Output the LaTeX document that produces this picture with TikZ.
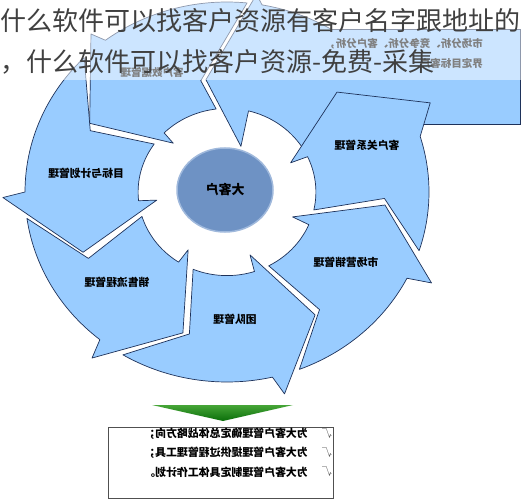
\documentclass[tikz,border=0pt]{standalone}
\usepackage{fontspec}
\usepackage{graphicx}
\usetikzlibrary{shapes.geometric}
\newfontfamily\cjk{Noto Sans CJK SC}
\definecolor{segblue}{RGB}{153,204,255}
\definecolor{navy}{RGB}{30,50,90}
\definecolor{hubfill}{RGB}{110,146,196}
\definecolor{hubrim}{RGB}{160,185,220}
\definecolor{titlegray}{RGB}{64,64,64}
\definecolor{gtop}{RGB}{70,165,55}
\definecolor{gbot}{RGB}{10,110,10}
\definecolor{boxline}{RGB}{80,80,80}
\tikzset{
  seg/.style={fill=segblue, draw=navy, line width=0.7pt, line join=round},
  segline/.style={draw=navy, line width=0.7pt, line join=round},
  lbl/.style={font=\cjk\bfseries\fontsize{10.8}{13}\selectfont, inner sep=0pt, text=black},
  small/.style={font=\cjk\bfseries\fontsize{10.5}{13}\selectfont, inner sep=0pt, text=black},
  boxtxt/.style={font=\cjk\bfseries\fontsize{10.9}{13}\selectfont, inner sep=0pt, text=black},
  chk/.style={font=\cjk\fontsize{10}{12}\selectfont, inner sep=0pt, text=black!70},
  titletxt/.style={font=\cjk\fontsize{26}{30}\selectfont, inner sep=0pt, text=titlegray, anchor=west},
}
\newcommand\ept[3]{\coordinate (#1) at ({227+#3*202*cos(#2)},{192-#3*190*sin(#2)});}
\newcommand\segment[5]{%
  \filldraw[seg] plot[domain=#2:#3,samples=30] ({227+202*cos(\x)},{192-190*sin(\x)})
    -- (#1ob) -- (#1tip) -- (#1ib)
    -- plot[domain=#4:#5,samples=20] ({227+88.9*cos(\x)},{192-83.6*sin(\x)})
    -- (#1n) -- cycle;}
\begin{document}
\begin{tikzpicture}[x=1pt,y=-1pt]
\useasboundingbox (0,0) rectangle (522,500);
\fill[white] (0,0) rectangle (522,500);
\clip (0,0) rectangle (522,500);

% points
\ept{Aob}{82}{1.05}\ept{Atip}{100}{0.6}\ept{Aib}{74}{0.25}
\ept{Bob}{129}{1.07}\ept{Btip}{152}{0.77}\ept{Bib}{136}{0.37}\ept{Bn}{102.5}{0.6}
\ept{Gob}{181.5}{1.11}\ept{Gtip}{204}{0.78}\ept{Gib}{187}{0.35}\ept{Gn}{154.5}{0.75}
\ept{Sob}{232.6}{1.1}\ept{Stip}{253.6}{0.773}\ept{Sib}{237.7}{0.36}\ept{Sn}{207}{0.77}
\ept{Tob}{285}{1.1}\ept{Ttip}{304}{0.78}\ept{Tib}{289}{0.35}\ept{Tn}{256}{0.77}
\ept{Mob}{334.7}{1.12}\ept{Mtip}{355}{0.785}\ept{Mib}{338}{0.35}\ept{Mn}{306.5}{0.77}
\ept{Kob}{385}{1.11}\ept{Ktip}{404}{0.757}\ept{Kib}{386}{0.35}\ept{Kn}{357.5}{0.78}

% top-right segment and box behind it
\fill[segblue] plot[domain=28:80,samples=30] ({227+202*cos(\x)},{192-190*sin(\x)})
  -- (Aob) -- (Atip) -- (Aib)
  -- plot[domain=76:26,samples=20] ({227+88.9*cos(\x)},{192-83.6*sin(\x)})
  -- (Ktip) -- cycle;
\fill[segblue] (300,30) rectangle (520,125);
\draw[segline] plot[domain=58.5:80,samples=10] ({227+202*cos(\x)},{192-190*sin(\x)})
  -- (Aob) -- (Atip) -- (Aib)
  -- plot[domain=76:26,samples=20] ({227+88.9*cos(\x)},{192-83.6*sin(\x)});
\draw[navy, line width=1pt] (332,30) -- (520,30) -- (520,125) -- (415,125);

% ring segments
\segment{B}{84.3}{127}{135}{97}
\segment{G}{135}{180}{186}{145}
\segment{S}{188}{231}{237}{197}
\segment{T}{239}{283}{288}{247.6}
\segment{M}{291}{333}{337}{298}
\segment{K}{342}{377}{385}{347.6}

% hub
\node[ellipse, fill=hubfill, draw=hubrim, line width=1.5pt, minimum width=96pt,
      minimum height=84pt, inner sep=0pt, font=\cjk\bfseries\fontsize{13}{15}\selectfont]
      (hub) at (225,190) {\reflectbox{大客户}};

% labels
\node[lbl] (lG) at (86,173) {\reflectbox{目标与计划管理}};
\node[lbl] (lK) at (367,145) {\reflectbox{客户关系管理}};
\node[lbl] (lM) at (346,262) {\reflectbox{市场营销管理}};
\node[lbl] (lS) at (117,282) {\reflectbox{销售流程管理}};
\node[lbl] (lT) at (235,319) {\reflectbox{团队管理}};
\node[small] (lB) at (152,72) {\reflectbox{客户数据管理}};
\node[small, anchor=east] (rA1) at (483,44) {\reflectbox{市场分析、竞争分析、客户分析，}};
\node[small, anchor=east] (rA2) at (483,63) {\reflectbox{界定目标客户}};

% overlay and title
\fill[white, opacity=0.5] (0,0) rectangle (522,80);
\node[titletxt] (t1) at (0,21) {什么软件可以找客户资源有客户名字跟地址的};
\node[titletxt] (t2) at (0,62) {，什么软件可以找客户资源-免费-采集};

% bottom part
\shade[top color=gtop, bottom color=gbot] (152,405) -- (293,405) -- (223,421) -- cycle;
\draw[boxline, line width=0.7pt] (108,427) rectangle (333,498);
\node[boxtxt, anchor=east] (b1) at (308,434) {\reflectbox{为大客户管理确定总体战略方向；}};
\node[boxtxt, anchor=east] (b2) at (308,453) {\reflectbox{为大客户管理提供过程管理工具；}};
\node[boxtxt, anchor=east] (b3) at (308,472) {\reflectbox{为大客户管理制定具体工作计划。}};
\node[chk] (c1) at (327,434) {\reflectbox{√}};
\node[chk] (c2) at (327,453) {\reflectbox{√}};
\node[chk] (c3) at (327,472) {\reflectbox{√}};
\end{tikzpicture}
\end{document}
